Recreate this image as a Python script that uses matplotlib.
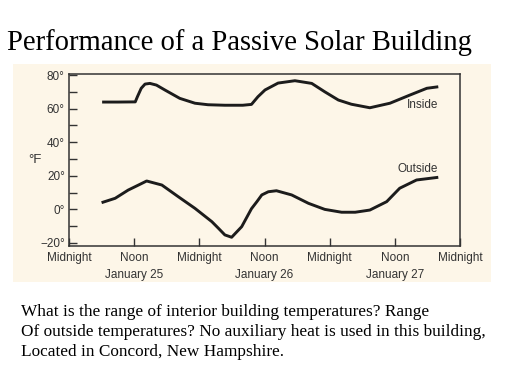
import matplotlib
matplotlib.use("Agg")
import matplotlib.pyplot as plt
from matplotlib.patches import Rectangle

# ---- data (hours since midnight Jan 25, temperature in °F) ----
inside_hours = [6.1, 9.0, 12.2, 12.6, 13.3, 14.0, 14.9, 16.1, 17.7, 20.4, 23.2, 25.6,
                28.7, 32.0, 33.6, 34.8, 36.1, 38.5, 41.6, 44.7, 47.1, 49.6, 52.0,
                55.4, 59.1, 62.8, 65.9, 68.0]
inside_temp = [63.9, 63.9, 64.0, 67.1, 72.1, 74.6, 75.0, 74.0, 71.0, 66.1, 63.2, 62.3,
               62.0, 62.0, 62.5, 67.1, 71.1, 75.2, 76.6, 75.0, 70.0, 65.1, 62.6,
               60.5, 63.2, 68.1, 72.1, 73.0]

outside_hours = [6.0, 8.5, 10.9, 12.8, 14.3, 17.1, 20.1, 23.2, 26.3, 27.5, 28.7, 29.95,
                 31.8, 33.6, 34.6, 35.5, 36.7, 38.2, 41.0, 44.1, 47.1, 50.2, 52.7,
                 55.4, 58.5, 60.9, 64.0, 68.0]
outside_temp = [4.0, 6.6, 11.5, 14.5, 16.9, 14.5, 7.6, 0.6, -7.3, -11.2, -15.2, -16.6,
                -10.3, 0.4, 4.6, 8.6, 10.5, 11.1, 8.6, 3.6, 0.0, -1.7, -1.7,
                -0.4, 4.6, 12.6, 17.5, 19.1]

xtick_pos = [0, 12, 24, 36, 48, 60, 72]
xtick_labels = ["Midnight", "Noon\nJanuary 25", "Midnight", "Noon\nJanuary 26",
                "Midnight", "Noon\nJanuary 27", "Midnight"]
ytick_major = [-20, 0, 20, 40, 60, 80]
ytick_minor = [-10, 10, 30, 50, 70]

title = "Performance of a Passive Solar Building"
caption = ["What is the range of interior building temperatures? Range",
           "Of outside temperatures? No auxiliary heat is used in this building,",
           "Located in Concord, New Hampshire."]

beige = "#fdf6e8"
ink = "#1c1c1c"
txt = "#333333"

fig = plt.figure(figsize=(5.12, 3.84), dpi=100)
fig.patch.set_facecolor("white")
fig.patches.append(Rectangle((13 / 512, 1 - 282 / 384), 478 / 512, 218 / 384,
                             transform=fig.transFigure, facecolor=beige,
                             edgecolor="none", zorder=-10))

ax = fig.add_axes([69 / 512, 1 - 246 / 384, 391 / 512, 172 / 384])
ax.set_zorder(5)
ax.set_facecolor(beige)
for xs, ys in ((inside_hours, inside_temp), (outside_hours, outside_temp)):
    ax.plot(xs, ys, color=ink, lw=2.1, solid_capstyle="butt",
            solid_joinstyle="round")
ax.set_xlim(0, 72)
ax.set_ylim(-21.8, 80.6)

ax.set_xticks(xtick_pos)
ax.set_xticklabels(xtick_labels, fontsize=8.5, color=txt, family="Liberation Sans",
                   linespacing=1.6)
ax.set_yticks(ytick_major)
ax.set_yticklabels([("\u2212" if v < 0 else "") + f"{abs(v)}°" for v in ytick_major],
                   fontsize=8.5, color=txt, family="Liberation Sans")
ax.set_yticks(ytick_minor, minor=True)
ax.tick_params(axis="both", which="both", direction="in", length=6, width=1,
               color="#333333")
ax.tick_params(axis="y", pad=3)
ax.tick_params(axis="x", pad=4)
for s in ax.spines.values():
    s.set_linewidth(1.1)
    s.set_color("#333333")

ax.text(68, 62, "Inside", ha="right", va="center", fontsize=8.5, color=txt,
        family="Liberation Sans")
ax.text(68, 24, "Outside", ha="right", va="center", fontsize=8.5, color=txt,
        family="Liberation Sans")
fig.text(35 / 512, 1 - 160 / 384, "°F", ha="center", va="center", fontsize=9.5,
         color=txt, family="Liberation Sans")

fig.text(7 / 512, 1 - 50 / 384, title, ha="left", va="baseline", fontsize=20.6,
         family="Liberation Serif", color="black")
for i, line in enumerate(caption):
    fig.text(21 / 512, 1 - (316 + 20 * i) / 384, line, ha="left", va="baseline",
             fontsize=12.4, family="Liberation Serif", color="black")

fig.savefig("out.png", dpi=100, facecolor="white")
